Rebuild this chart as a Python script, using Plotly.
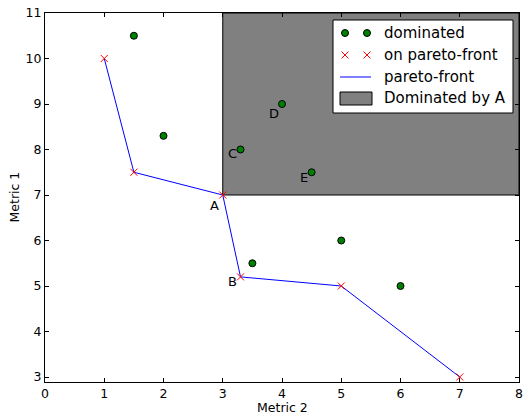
import plotly.graph_objects as go

dom_x = [1.5, 2, 3.3, 4, 4.5, 3.5, 5, 6]
dom_y = [10.5, 8.3, 8, 9, 7.5, 5.5, 6, 5]
pf_x = [1, 1.5, 3, 3.3, 5, 7]
pf_y = [10, 7.5, 7, 5.2, 5, 3]
lab_text = ["A", "B", "C", "D", "E"]
lab_x = [3, 3.3, 3.3, 4, 4.5]
lab_y = [7, 5.2, 8, 9, 7.5]
legend_names = ["dominated", "on pareto-front", "pareto-front", "Dominated by A"]

# plot area in pixels
W, H = 524, 414
L, R, T, B = 45, 5, 13, 32
PW, PH = W - L - R, H - T - B

def fx(px):
    return (px - L) / PW

def fy(py):
    return (H - B - py) / PH

fig = go.Figure()
# dominated region (point A dominates)
fig.add_trace(go.Scatter(x=[pf_x[2], 8, 8, pf_x[2], pf_x[2]], y=[pf_y[2], pf_y[2], 11, 11, pf_y[2]],
                         fill="toself", fillcolor="#808080", mode="lines",
                         line=dict(color="black", width=1), hoverinfo="skip", showlegend=False))
fig.add_trace(go.Scatter(x=pf_x, y=pf_y, mode="lines", line=dict(color="blue", width=1), showlegend=False))
fig.add_trace(go.Scatter(x=dom_x, y=dom_y, mode="markers", showlegend=False,
                         marker=dict(color="green", size=7, line=dict(color="black", width=1))))
fig.add_trace(go.Scatter(x=pf_x, y=pf_y, mode="markers", showlegend=False,
                         marker=dict(color="red", size=7, symbol="x-thin", line=dict(color="red", width=1))))

label_dy = [-10, -5, -4, -9, -5]
for t, x, y, dy in zip(lab_text, lab_x, lab_y, label_dy):
    fig.add_annotation(x=x, y=y, text=t, showarrow=False, xshift=-8, yshift=dy,
                       font=dict(size=13, color="black"))

# ---- manual legend on an overlay axis in [0,1] ----
bx0, bx1, by0, by1 = fx(333), fx(513), fy(113), fy(20)
fig.add_trace(go.Scatter(x=[bx0, bx1, bx1, bx0, bx0], y=[by0, by0, by1, by1, by0],
                         xaxis="x2", yaxis="y2", fill="toself", fillcolor="white", mode="lines",
                         line=dict(color="black", width=1), hoverinfo="skip", showlegend=False))
rows = [fy(33), fy(55), fy(77), fy(98)]
mx = [fx(345), fx(367)]
fig.add_trace(go.Scatter(x=mx, y=[rows[0]] * 2, xaxis="x2", yaxis="y2", mode="markers", showlegend=False,
                         marker=dict(color="green", size=7, line=dict(color="black", width=1))))
fig.add_trace(go.Scatter(x=mx, y=[rows[1]] * 2, xaxis="x2", yaxis="y2", mode="markers", showlegend=False,
                         marker=dict(color="red", size=7, symbol="x-thin", line=dict(color="red", width=1))))
fig.add_trace(go.Scatter(x=[fx(340), fx(371)], y=[rows[2]] * 2, xaxis="x2", yaxis="y2", mode="lines",
                         showlegend=False, line=dict(color="blue", width=1)))
fig.add_trace(go.Scatter(x=[fx(340), fx(372), fx(372), fx(340), fx(340)],
                         y=[fy(105), fy(105), fy(92), fy(92), fy(105)],
                         xaxis="x2", yaxis="y2", fill="toself", fillcolor="#808080", mode="lines",
                         line=dict(color="black", width=1), hoverinfo="skip", showlegend=False))
for name, ry in zip(legend_names, rows):
    fig.add_annotation(x=fx(382), y=ry, xref="paper", yref="paper", text=name, showarrow=False,
                       xanchor="left", yanchor="middle", font=dict(size=15, color="black"))

# axis titles
fig.add_annotation(x=0.5, y=0, xref="paper", yref="paper", text="Metric 2", showarrow=False,
                   xanchor="center", yanchor="middle", yshift=-(407 - (H - B)),
                   font=dict(size=12.5, color="black"))
fig.add_annotation(x=0, y=0.5, xref="paper", yref="paper", text="Metric 1", showarrow=False,
                   textangle=-90, xanchor="center", yanchor="middle", xshift=-(L - 14),
                   font=dict(size=12.5, color="black"))

axis_style = dict(showgrid=False, zeroline=False, showline=True, linecolor="black", linewidth=1,
                  mirror="ticks", ticks="inside", ticklen=4, tickcolor="black", automargin=False,
                  tickfont=dict(size=12.5))
fig.update_layout(
    width=W, height=H,
    margin=dict(l=L, r=R, t=T, b=B, autoexpand=False),
    plot_bgcolor="white", paper_bgcolor="white",
    font=dict(family="DejaVu Sans", size=12.5, color="black"),
    showlegend=False,
    hovermode=False,
    xaxis=dict(range=[0, 8], dtick=1, **axis_style),
    yaxis=dict(range=[2.89, 11], tickvals=[3, 4, 5, 6, 7, 8, 9, 10, 11], **axis_style),
    xaxis2=dict(overlaying="x", range=[0, 1], visible=False, fixedrange=True),
    yaxis2=dict(overlaying="y", range=[0, 1], visible=False, fixedrange=True),
)

fig.write_html("out.html", config={"displayModeBar": False},
               post_script="document.body.style.margin='0px';")
